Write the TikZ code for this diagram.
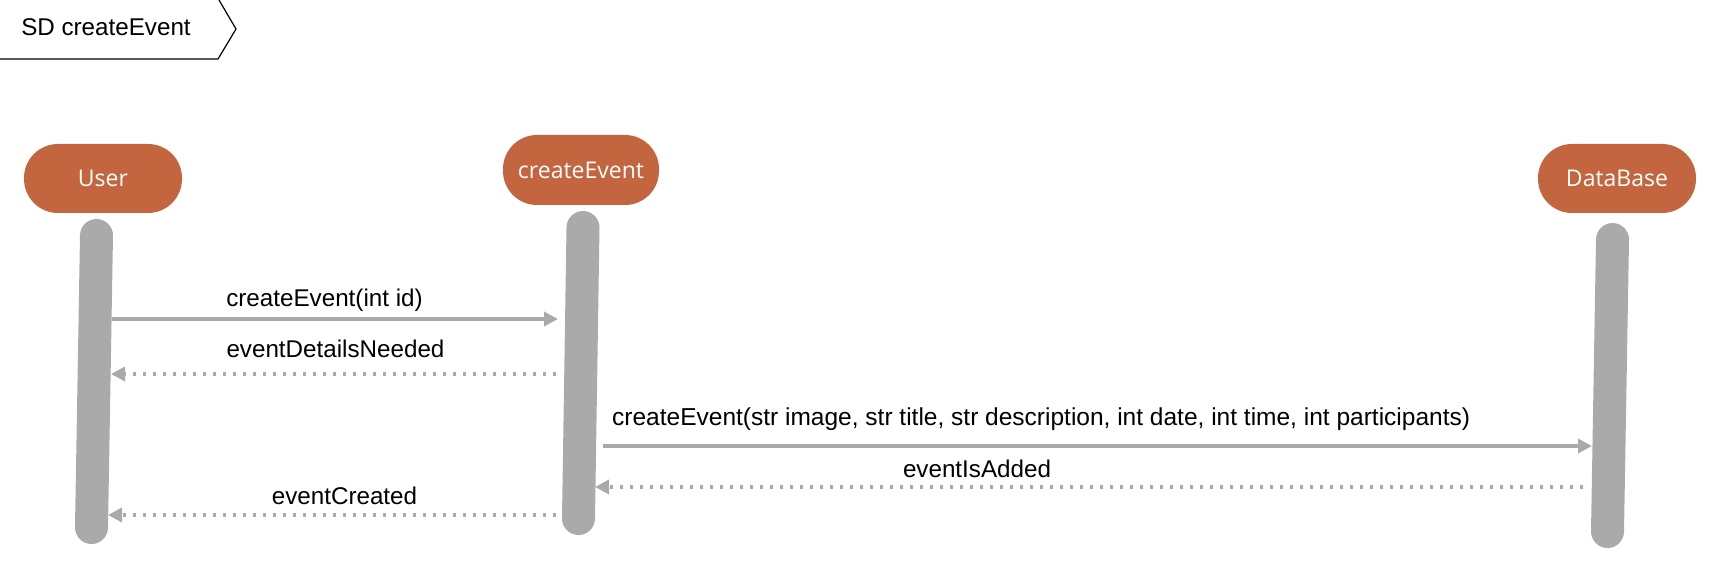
\documentclass[tikz,border=0pt]{standalone}
\usepackage{fontspec}
\setmainfont{Liberation Sans}
\newfontfamily\actorfont{Open Sans}
\usetikzlibrary{arrows.meta}
\definecolor{actorfill}{HTML}{C3663F}
\definecolor{linegray}{HTML}{AAAAAA}
\tikzset{
 actor/.style={fill=actorfill, text=white, rounded corners=34pt, minimum width=158pt, minimum height=69pt, inner sep=0pt, font=\actorfont\fontsize{23}{27}\selectfont},
 lifebar/.style={draw=linegray, line width=33pt, line cap=round},
 callmsg/.style={draw=linegray, line width=3.5pt, -{Triangle[length=14pt,width=14pt]}},
 replymsg/.style={draw=linegray, line width=3.3pt, dash pattern=on 3.3pt off 6.7pt, -{Triangle[length=14pt,width=14pt]}},
 msglabel/.style={anchor=base, inner sep=0pt, font=\fontsize{24.2}{28}\selectfont},
 tagline/.style={draw=black, line width=1.2pt},
}
\begin{document}
\begin{tikzpicture}[x=1pt,y=-1pt]
\useasboundingbox (0,0) rectangle (1727,577);
% frame tag
\coordinate (tagA) at (219,0);
\coordinate (tagB) at (236,29);
\coordinate (tagC) at (218,59);
\coordinate (tagD) at (0,59);
\draw[tagline] (tagA) -- (tagB) -- (tagC) -- (tagD);
\node[msglabel] (title) at (106,36) {SD createEvent};
% actors
\node[actor] (user) at (103,178.5) {User};
\node[actor, minimum width=156pt, minimum height=70pt] (ce) at (581,170) {createEvent};
\node[actor] (db) at (1617,178.5) {DataBase};
% lifelines
\coordinate (userTop) at (96.5,235.5);
\coordinate (userBot) at (91.5,527.5);
\coordinate (ceTop) at (583,227.5);
\coordinate (ceBot) at (578.5,518.5);
\coordinate (dbTop) at (1612.5,239.5);
\coordinate (dbBot) at (1607.5,531.5);
\draw[lifebar] (userTop) -- (userBot);
\draw[lifebar] (ceTop) -- (ceBot);
\draw[lifebar] (dbTop) -- (dbBot);
% message end points
\coordinate (m1s) at (112,319);
\coordinate (m1e) at (558,319);
\coordinate (m2s) at (556,374);
\coordinate (m2e) at (111,374);
\coordinate (m3s) at (603,446);
\coordinate (m3e) at (1592,446);
\coordinate (m4s) at (1583,487);
\coordinate (m4e) at (595,487);
\coordinate (m5s) at (556,515);
\coordinate (m5e) at (108,515);
% messages
\draw[callmsg] (m1s) -- (m1e);
\draw[replymsg] (m2s) -- (m2e);
\draw[callmsg] (m3s) -- (m3e);
\draw[replymsg] (m4s) -- (m4e);
\draw[replymsg] (m5s) -- (m5e);
% labels
\node[msglabel] (l1) at (324.5,307) {createEvent(int id)};
\node[msglabel] (l2) at (335.5,357) {eventDetailsNeeded};
\node[msglabel, anchor=base west, font=\fontsize{24.5}{28}\selectfont] (l3) at (612,425) {createEvent(str image, str title, str description, int date, int time, int participants)};
\node[msglabel] (l4) at (977,477) {eventIsAdded};
\node[msglabel] (l5) at (344.5,504) {eventCreated};
\end{tikzpicture}
\end{document}
